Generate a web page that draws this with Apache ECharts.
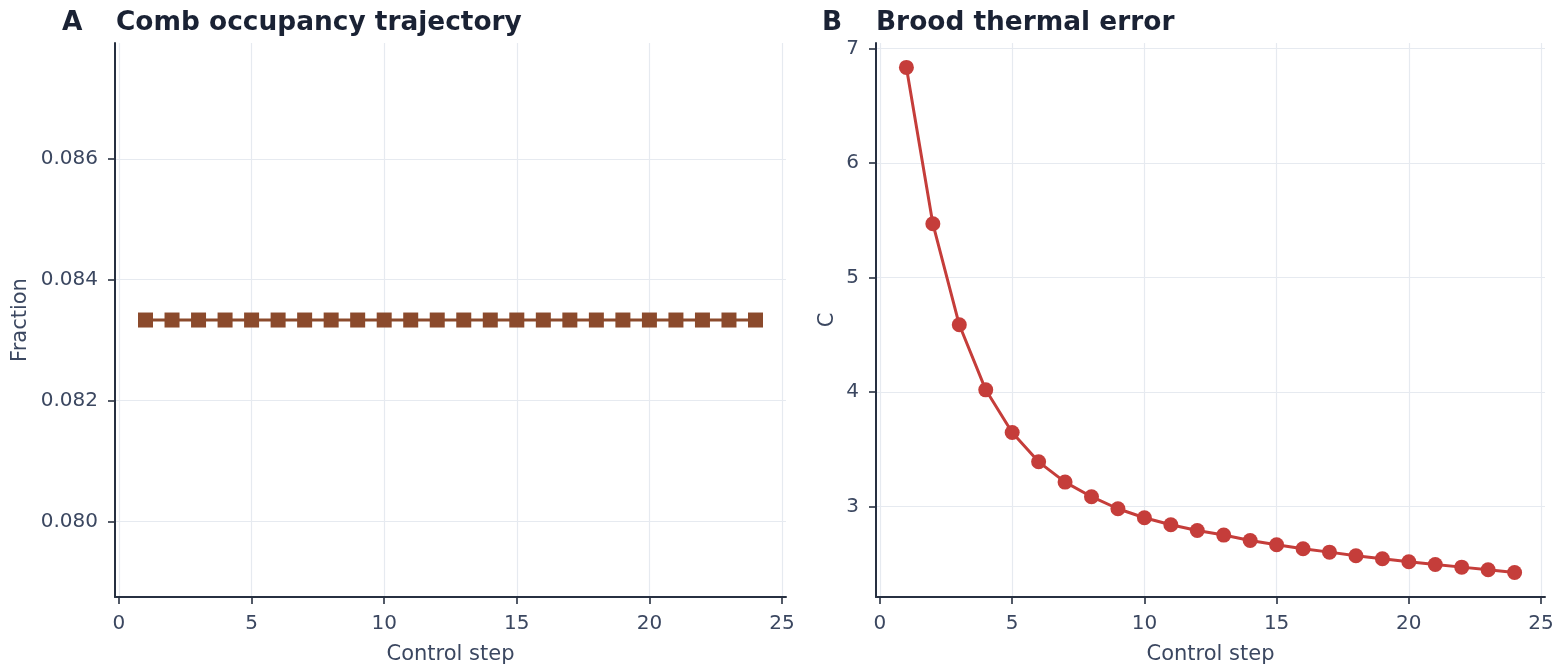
<!DOCTYPE html>
<html>
<head>
<meta charset="utf-8">
<script src="https://cdn.jsdelivr.net/npm/echarts@6/dist/echarts.min.js"></script>
<style>
  html, body { margin: 0; padding: 0; background: #ffffff; }
  #chart { width: 1567px; height: 668px; }
</style>
</head>
<body>
<div id="chart"></div>
<script>
// Control steps 1..24
const steps = [1,2,3,4,5,6,7,8,9,10,11,12,13,14,15,16,17,18,19,20,21,22,23,24];

// Panel A: comb occupancy fraction per step
const occupancy = [0.083333,0.083333,0.083333,0.083333,0.083333,0.083333,0.083333,0.083333,
  0.083333,0.083333,0.083333,0.083333,0.083333,0.083333,0.083333,0.083333,
  0.083333,0.083333,0.083333,0.083333,0.083333,0.083333,0.083333,0.083333];

// Panel B: brood thermal error (C) per step
const thermalError = [6.837,5.471,4.588,4.020,3.647,3.391,3.214,3.086,2.981,2.902,2.841,2.791,
  2.751,2.704,2.666,2.631,2.602,2.570,2.544,2.518,2.494,2.471,2.448,2.424];

// Tick values
const xTicks = [0,5,10,15,20,25];
const occTicks = [0.080,0.082,0.084,0.086];
const errTicks = [3,4,5,6,7];

const FONT = 'DejaVu Sans';
const INK = '#1a2234';
const TICK_TXT = '#3b4760';
const SPINE = '#273041';
const GRIDC = '#e6eaf0';
const LABEL_SIZE = 20;
const NAME_SIZE = 21;

function xAxis(gridIndex) {
  return {
    type: 'value', gridIndex, min: -0.15, max: 25.15,
    name: 'Control step', nameLocation: 'middle', nameGap: 47,
    nameTextStyle: { fontFamily: FONT, fontSize: NAME_SIZE, color: TICK_TXT },
    axisLine: { show: true, onZero: false, lineStyle: { color: SPINE, width: 2 } },
    axisTick: { show: true, length: 7, lineStyle: { color: SPINE, width: 1.6 }, customValues: xTicks },
    axisLabel: { customValues: xTicks, fontFamily: FONT, fontSize: LABEL_SIZE, color: TICK_TXT, margin: 17 },
    splitLine: { show: true, lineStyle: { color: GRIDC, width: 1.2 } }
  };
}

function yAxis(gridIndex, name, min, max, ticks, fmt, gap) {
  return {
    type: 'value', gridIndex, min, max,
    name, nameLocation: 'middle', nameGap: gap, nameRotate: 90,
    nameTextStyle: { fontFamily: FONT, fontSize: NAME_SIZE, color: TICK_TXT },
    axisLine: { show: true, onZero: false, lineStyle: { color: SPINE, width: 2 } },
    axisTick: { show: true, length: 7, lineStyle: { color: SPINE, width: 1.6 }, customValues: ticks },
    axisLabel: { customValues: ticks, fontFamily: FONT, fontSize: LABEL_SIZE, color: TICK_TXT, margin: 17, formatter: fmt },
    splitLine: { show: true, lineStyle: { color: GRIDC, width: 1.2 } }
  };
}

const chart = echarts.init(document.getElementById('chart'), null, { renderer: 'canvas' });

const titleStyle = { fontFamily: FONT, fontSize: 26.4, fontWeight: 'bold', color: INK };

chart.setOption({
  backgroundColor: '#ffffff',
  animation: false,
  title: [
    { text: 'A', left: 57, top: 5, textStyle: titleStyle },
    { text: 'Comb occupancy trajectory', left: 111, top: 5, textStyle: titleStyle },
    { text: 'B', left: 817, top: 5, textStyle: titleStyle },
    { text: 'Brood thermal error', left: 871, top: 5, textStyle: titleStyle }
  ],
  grid: [
    { left: 115, top: 43, width: 671, height: 554, containLabel: false, outerBoundsMode: 'none' },
    { left: 876, top: 43, width: 669, height: 554, containLabel: false, outerBoundsMode: 'none' }
  ],
  xAxis: [xAxis(0), xAxis(1)],
  yAxis: [
    yAxis(0, 'Fraction', 0.07875, 0.0879167, occTicks, v => v.toFixed(3), 84),
    yAxis(1, 'C', 2.21, 7.05, errTicks, v => String(v), 38)
  ],
  series: [
    {
      type: 'line', xAxisIndex: 0, yAxisIndex: 0,
      data: steps.map((s, i) => [s, occupancy[i]]),
      symbol: 'rect', symbolSize: 15,
      lineStyle: { color: '#8b4a2c', width: 3 },
      itemStyle: { color: '#8b4a2c' }
    },
    {
      type: 'line', xAxisIndex: 1, yAxisIndex: 1,
      data: steps.map((s, i) => [s, thermalError[i]]),
      symbol: 'circle', symbolSize: 15,
      lineStyle: { color: '#c53d3a', width: 3 },
      itemStyle: { color: '#c53d3a' }
    }
  ]
});
</script>
</body>
</html>
